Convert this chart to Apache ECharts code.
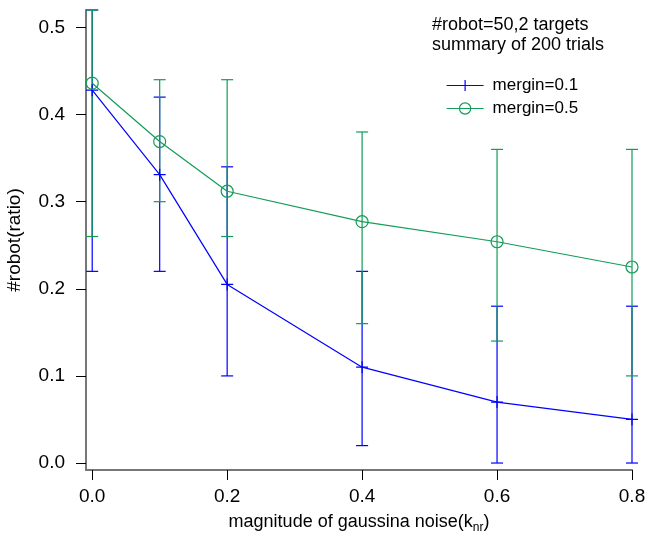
<!DOCTYPE html>
<html>
<head>
<meta charset="utf-8">
<script src="https://cdn.jsdelivr.net/npm/echarts@6/dist/echarts.min.js"></script>
<style>html,body{margin:0;padding:0;background:#fff}#c{width:647px;height:541px}</style>
</head>
<body>
<div id="c"></div>
<script>
const xValues = [0.0, 0.1, 0.2, 0.4, 0.6, 0.8];
const m01Mean = [0.428, 0.331, 0.205, 0.11, 0.07, 0.05];
const m01Low  = [0.22, 0.22, 0.10, 0.02, 0.00, 0.00];
const m01High = [0.52, 0.42, 0.34, 0.22, 0.18, 0.18];
const m05Mean = [0.436, 0.369, 0.312, 0.277, 0.254, 0.225];
const m05Low  = [0.26, 0.30, 0.26, 0.16, 0.14, 0.10];
const m05High = [0.52, 0.44, 0.44, 0.38, 0.36, 0.36];
const xTicks = [0.0, 0.2, 0.4, 0.6, 0.8];
const yTicks = [0.0, 0.1, 0.2, 0.3, 0.4, 0.5];
const seriesNames = ['mergin=0.1', 'mergin=0.5'];
const annotation = ['#robot=50,2 targets', 'summary of 200 trials'];

const BLUE = '#0000FF';
const GREEN = '#129C57';
const FONT = '"Liberation Sans", Arial, Helvetica, sans-serif';

function errSeries(name, low, high, color) {
  return {
    type: 'custom',
    name: name + ' err',
    z: 2,
    clip: false,
    data: xValues.map((x, i) => [x, low[i], high[i]]),
    renderItem: function (params, api) {
      const x = api.value(0);
      const lo = api.coord([x, api.value(1)]);
      const hi = api.coord([x, api.value(2)]);
      const w = 6;
      const st = { stroke: color, lineWidth: 1.2 };
      return {
        type: 'group',
        children: [
          { type: 'line', shape: { x1: lo[0], y1: lo[1], x2: hi[0], y2: hi[1] }, style: st },
          { type: 'line', shape: { x1: lo[0] - w, y1: lo[1], x2: lo[0] + w, y2: lo[1] }, style: st },
          { type: 'line', shape: { x1: hi[0] - w, y1: hi[1], x2: hi[0] + w, y2: hi[1] }, style: st }
        ]
      };
    }
  };
}

const chart = echarts.init(document.getElementById('c'), null, { renderer: 'canvas' });
chart.setOption({
  animation: false,
  backgroundColor: '#fff',
  textStyle: { fontFamily: FONT },
  grid: { left: 86, right: 15, top: 10, bottom: 71, containLabel: false, outerBoundsMode: 'none' },
  legend: {
    orient: 'vertical',
    left: 441,
    top: 72,
    padding: [5, 5, 5, 5],
    itemWidth: 37,
    itemHeight: 14,
    itemGap: 6,
    data: seriesNames,
    lineStyle: { width: 1.2 },
    itemStyle: { borderWidth: 1.2 },
    textStyle: { fontSize: 17, color: '#000', fontFamily: FONT, padding: [0, 0, 0, 4] }
  },
  graphic: [{
    type: 'text',
    left: 432,
    top: 15,
    style: {
      text: annotation.join('\n'),
      font: '18px ' + FONT,
      lineHeight: 20,
      fill: '#000'
    }
  }],
  xAxis: {
    type: 'value',
    min: -0.0092,
    max: 0.8,
    name: '{a|magnitude of gaussina noise(k}{sub|nr}{a|)}',
    nameLocation: 'middle',
    nameGap: 43,
    nameTextStyle: {
      rich: {
        a: { fontSize: 18, lineHeight: 20, verticalAlign: 'top', color: '#000', fontFamily: FONT },
        sub: { fontSize: 12, lineHeight: 14, padding: [9, 0, 0, 0], verticalAlign: 'top', color: '#000', fontFamily: FONT }
      }
    },
    splitLine: { show: false },
    axisLine: { show: true, onZero: false, lineStyle: { color: '#777', width: 2 } },
    axisTick: { show: true, customValues: xTicks, length: 10, lineStyle: { color: '#000', width: 1 } },
    axisLabel: { customValues: xTicks, formatter: v => v.toFixed(1), margin: 17, fontSize: 19, color: '#000', fontFamily: FONT }
  },
  yAxis: {
    type: 'value',
    min: -0.008,
    max: 0.52,
    name: '#robot(ratio)',
    nameLocation: 'middle',
    nameGap: 62,
    nameTextStyle: { fontSize: 19, color: '#000', fontFamily: FONT },
    splitLine: { show: false },
    axisLine: { show: true, onZero: false, lineStyle: { color: '#777', width: 2 } },
    axisTick: { show: true, customValues: yTicks, length: 10, lineStyle: { color: '#000', width: 1 } },
    axisLabel: { customValues: yTicks, formatter: v => v.toFixed(1), margin: 21, fontSize: 19, color: '#000', fontFamily: FONT }
  },
  series: [
    errSeries(seriesNames[0], m01Low, m01High, BLUE),
    errSeries(seriesNames[1], m05Low, m05High, GREEN),
    {
      type: 'line',
      name: seriesNames[0],
      z: 3,
      clip: false,
      data: xValues.map((x, i) => [x, m01Mean[i]]),
      symbol: 'path://M0,5L10,5M5,0L5,10',
      symbolSize: 12,
      showSymbol: true,
      lineStyle: { color: BLUE, width: 1.2 },
      itemStyle: { color: 'none', borderColor: BLUE, borderWidth: 1.2 }
    },
    {
      type: 'line',
      name: seriesNames[1],
      z: 3,
      clip: false,
      data: xValues.map((x, i) => [x, m05Mean[i]]),
      symbol: 'circle',
      symbolSize: 12,
      showSymbol: true,
      lineStyle: { color: GREEN, width: 1.2 },
      itemStyle: { color: 'none', borderColor: GREEN, borderWidth: 1.2 }
    }
  ]
});
</script>
</body>
</html>
